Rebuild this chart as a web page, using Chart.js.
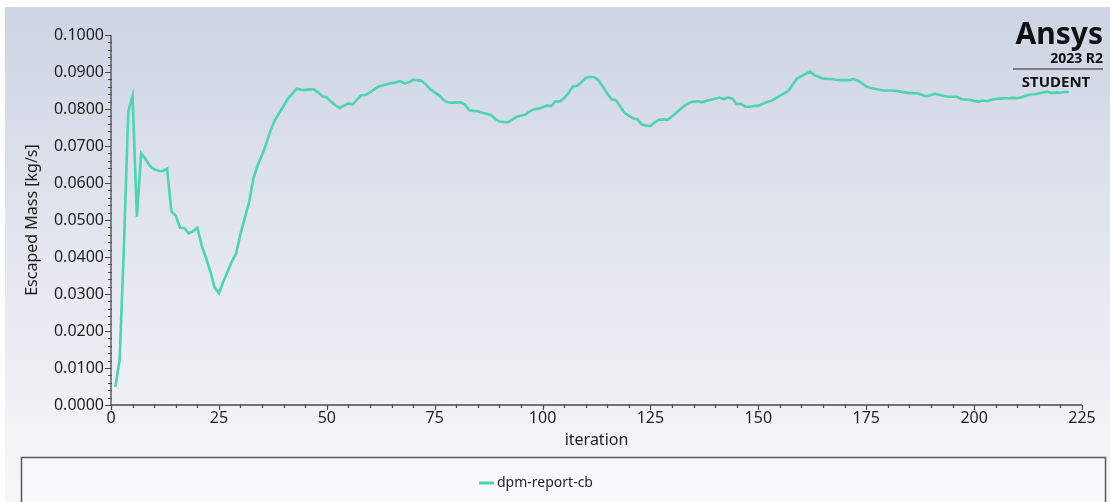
<!DOCTYPE html>
<html>
<head>
<meta charset="utf-8">
<script src="https://cdn.jsdelivr.net/npm/chart.js@4/dist/chart.umd.min.js"></script>
<style>
  html, body { margin: 0; padding: 0; background: #ffffff; }
  canvas { display: block; }
</style>
</head>
<body>
<canvas id="plot" width="1110" height="502"></canvas>
<script>
// Escaped mass report (kg/s), one value per solver iteration starting at 1
const escapedMass = [
  0.0049, 0.0122, 0.0430, 0.0793, 0.0835, 0.0509, 0.0680, 0.0665, 0.0646, 0.0637,
  0.0633, 0.0632, 0.0639, 0.0523, 0.0512, 0.0479, 0.0478, 0.0464, 0.0470, 0.0479,
  0.0432, 0.0398, 0.0362, 0.0318, 0.0302, 0.0333, 0.0360, 0.0388, 0.0410, 0.0463,
  0.0505, 0.0548, 0.0612, 0.0648, 0.0676, 0.0707, 0.0743, 0.0770, 0.0790, 0.0808,
  0.0829, 0.0841, 0.0855, 0.0852, 0.0851, 0.0853, 0.0853, 0.0845, 0.0834, 0.0831,
  0.0820, 0.0810, 0.0803, 0.0809, 0.0815, 0.0812, 0.0825, 0.0837, 0.0838, 0.0845,
  0.0853, 0.0861, 0.0864, 0.0867, 0.0870, 0.0872, 0.0875, 0.0869, 0.0872, 0.0879,
  0.0878, 0.0876, 0.0866, 0.0853, 0.0845, 0.0837, 0.0825, 0.0818, 0.0817, 0.0818,
  0.0818, 0.0812, 0.0797, 0.0795, 0.0794, 0.0790, 0.0787, 0.0784, 0.0774, 0.0766,
  0.0765, 0.0764, 0.0772, 0.0779, 0.0782, 0.0785, 0.0793, 0.0799, 0.0801, 0.0805,
  0.0809, 0.0808, 0.0821, 0.0820, 0.0830, 0.0842, 0.0861, 0.0863, 0.0872, 0.0884,
  0.0887, 0.0886, 0.0877, 0.0860, 0.0842, 0.0826, 0.0824, 0.0807, 0.0790, 0.0782,
  0.0775, 0.0772, 0.0758, 0.0755, 0.0754, 0.0764, 0.0771, 0.0772, 0.0771, 0.0780,
  0.0790, 0.0800, 0.0810, 0.0817, 0.0820, 0.0821, 0.0818, 0.0822, 0.0825, 0.0828,
  0.0831, 0.0827, 0.0831, 0.0828, 0.0813, 0.0814, 0.0806, 0.0806, 0.0808, 0.0809,
  0.0814, 0.0819, 0.0822, 0.0829, 0.0836, 0.0842, 0.0850, 0.0866, 0.0883, 0.0889,
  0.0895, 0.0901, 0.0891, 0.0887, 0.0882, 0.0881, 0.0881, 0.0879, 0.0878, 0.0878,
  0.0878, 0.0881, 0.0877, 0.0870, 0.0861, 0.0857, 0.0855, 0.0852, 0.0850, 0.0850,
  0.0850, 0.0849, 0.0847, 0.0845, 0.0843, 0.0843, 0.0842, 0.0838, 0.0834, 0.0838,
  0.0841, 0.0838, 0.0835, 0.0833, 0.0833, 0.0833, 0.0827, 0.0825, 0.0825, 0.0822,
  0.0820, 0.0823, 0.0821, 0.0825, 0.0827, 0.0828, 0.0829, 0.0829, 0.0830, 0.0829,
  0.0832, 0.0836, 0.0839, 0.0840, 0.0842, 0.0845, 0.0847, 0.0843, 0.0845, 0.0844,
  0.0846, 0.0846
];
const firstIteration = 1;
const iterations = escapedMass.map((_, i) => firstIteration + i);

const seriesName = 'dpm-report-cb';
const xTitle = 'iteration';
const yTitle = 'Escaped Mass [kg/s]';
const xTickStep = 25, xMinorStep = 5, xMax = 225;
const yTickStep = 0.01, yMinorStep = 0.002, yMax = 0.1;

const brandName = 'Ansys';
const brandRelease = '2023 R2';
const brandEdition = 'STUDENT';

const FONT = '"Noto Sans", "Open Sans", sans-serif';
const LINE_COLOR = '#4fd3b1';
const AXIS_COLOR = '#4a4a4a';
const TEXT_COLOR = '#1f1f1f';

// Panel background, legend frame and product badge
const backdrop = {
  id: 'backdrop',
  beforeDraw(chart) {
    const ctx = chart.ctx;
    const W = chart.width, H = chart.height;
    ctx.save();
    ctx.fillStyle = '#ffffff';
    ctx.fillRect(0, 0, W, H);
    const g = ctx.createLinearGradient(0, 7, 0, H);
    g.addColorStop(0, '#cdd4e3');
    g.addColorStop(0.55, '#e6e9f0');
    g.addColorStop(1, '#f6f7f9');
    ctx.fillStyle = g;
    ctx.fillRect(5, 7, W - 5, H - 7);

    // legend frame
    ctx.fillStyle = '#f8f9fb';
    ctx.fillRect(21, 457, 1084, H - 457 + 5);
    ctx.strokeStyle = '#5a5a5a';
    ctx.lineWidth = 1.5;
    ctx.beginPath();
    ctx.moveTo(21.5, H + 5);
    ctx.lineTo(21.5, 457.5);
    ctx.lineTo(1105.5, 457.5);
    ctx.lineTo(1105.5, H + 5);
    ctx.stroke();

    // badge
    ctx.fillStyle = '#111111';
    ctx.textAlign = 'right';
    ctx.textBaseline = 'alphabetic';
    ctx.font = 'bold 30px ' + FONT;
    ctx.fillText(brandName, 1103, 44);
    ctx.font = 'bold 14px ' + FONT;
    ctx.fillText(brandRelease, 1103, 63);
    ctx.strokeStyle = '#222222';
    ctx.lineWidth = 1.2;
    ctx.beginPath();
    ctx.moveTo(1013, 69);
    ctx.lineTo(1103, 69);
    ctx.stroke();
    ctx.textAlign = 'center';
    ctx.font = 'bold 15px ' + FONT;
    ctx.fillText(brandEdition, 1056, 87);
    ctx.restore();
  },
  afterDraw(chart) {
    // legend entry
    const ctx = chart.ctx;
    const ds = chart.data.datasets[0];
    ctx.save();
    ctx.strokeStyle = ds.borderColor;
    ctx.lineWidth = 3;
    ctx.beginPath();
    ctx.moveTo(479, 483);
    ctx.lineTo(494, 483);
    ctx.stroke();
    ctx.fillStyle = TEXT_COLOR;
    ctx.font = '14px ' + FONT;
    ctx.textAlign = 'left';
    ctx.textBaseline = 'middle';
    ctx.fillText(ds.label, 497, 483);
    ctx.restore();
  }
};

// Axis lines with outward major ticks and small minor ticks
const axisFrame = {
  id: 'axisFrame',
  afterDatasetsDraw(chart) {
    const ctx = chart.ctx;
    const xs = chart.scales.x, ys = chart.scales.y;
    const a = chart.chartArea;
    ctx.save();
    ctx.strokeStyle = AXIS_COLOR;
    ctx.lineWidth = 1.3;
    ctx.beginPath();
    ctx.moveTo(a.left, a.top);
    ctx.lineTo(a.left, a.bottom);
    ctx.lineTo(a.right, a.bottom);
    ctx.stroke();

    ctx.lineWidth = 1.2;
    ctx.beginPath();
    const yCount = Math.round(yMax / yMinorStep);
    const perY = Math.round(yTickStep / yMinorStep);
    for (let k = 0; k <= yCount; k++) {
      const py = Math.round(ys.getPixelForValue(k * yMinorStep)) + 0.5;
      if (k % perY === 0) { ctx.moveTo(a.left - 6, py); ctx.lineTo(a.left, py); }
      else { ctx.moveTo(a.left - 3, py); ctx.lineTo(a.left + 1, py); }
    }
    const xCount = Math.round(xMax / xMinorStep);
    const perX = Math.round(xTickStep / xMinorStep);
    for (let k = 0; k <= xCount; k++) {
      const px = Math.round(xs.getPixelForValue(k * xMinorStep)) + 0.5;
      if (k % perX === 0) { ctx.moveTo(px, a.bottom); ctx.lineTo(px, a.bottom + 5); }
      else { ctx.moveTo(px, a.bottom - 1); ctx.lineTo(px, a.bottom + 3); }
    }
    ctx.stroke();
    ctx.restore();
  }
};

new Chart(document.getElementById('plot'), {
  type: 'line',
  data: {
    datasets: [{
      label: seriesName,
      data: iterations.map((it, i) => ({ x: it, y: escapedMass[i] })),
      borderColor: LINE_COLOR,
      backgroundColor: LINE_COLOR,
      borderWidth: 2.6,
      pointRadius: 0,
      tension: 0,
      fill: false
    }]
  },
  options: {
    responsive: false,
    devicePixelRatio: 1,
    animation: false,
    layout: { padding: { left: 0, right: 28, top: 35, bottom: 47 } },
    plugins: { legend: { display: false }, tooltip: { enabled: false } },
    scales: {
      x: {
        type: 'linear',
        min: 0, max: xMax,
        grid: { display: false, drawTicks: false },
        border: { display: false },
        ticks: { stepSize: xTickStep, padding: 4, color: TEXT_COLOR, font: { family: FONT, size: 16 }, maxRotation: 0 },
        title: { display: true, text: xTitle, color: TEXT_COLOR, font: { family: FONT, size: 16 }, padding: { top: 0, bottom: 5 } },
        afterFit(scale) { scale.height = 50; }
      },
      y: {
        type: 'linear',
        min: 0, max: yMax,
        grid: { display: false, drawTicks: false },
        border: { display: false },
        ticks: {
          stepSize: yTickStep, padding: 7, color: TEXT_COLOR, font: { family: FONT, size: 16 },
          callback: (v) => v.toFixed(4)
        },
        title: { display: true, text: yTitle, color: TEXT_COLOR, font: { family: FONT, size: 16 }, padding: { top: 23, bottom: 0 } },
        afterFit(scale) { scale.width = 111; }
      }
    }
  },
  plugins: [backdrop, axisFrame]
});
</script>
</body>
</html>
